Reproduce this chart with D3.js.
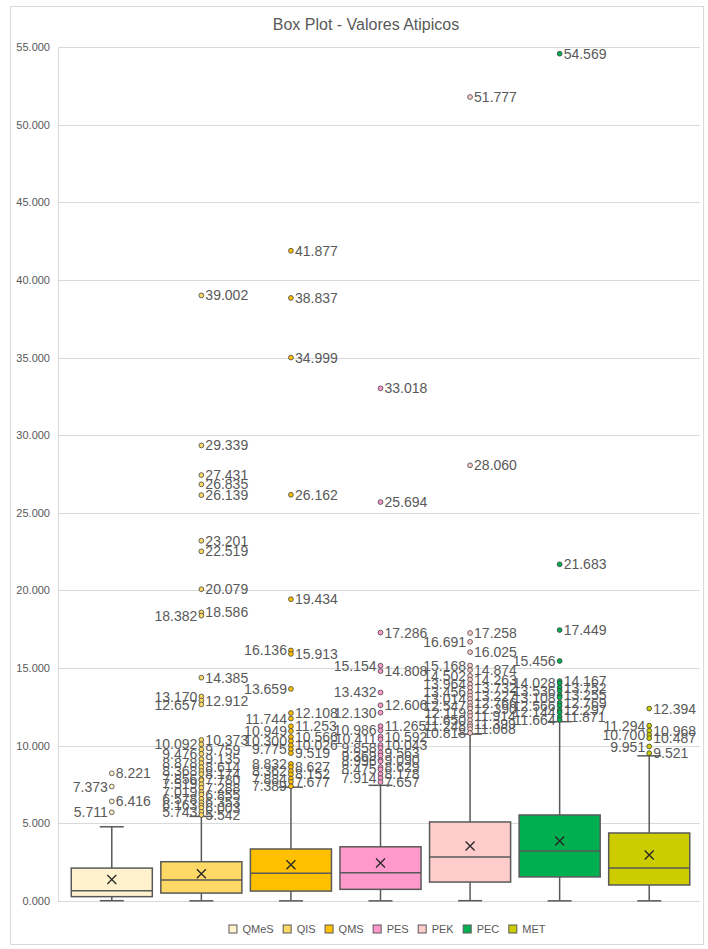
<!DOCTYPE html>
<html>
<head>
<meta charset="utf-8">
<script src="https://cdn.jsdelivr.net/npm/d3@7"></script>
<style>
  body { margin: 0; background: #ffffff; }
  text { font-family: "Liberation Sans", Arial, sans-serif; fill: #595959; }
</style>
</head>
<body>
<div class="chart"></div>
<script>
const categories = ["QMeS", "QIS", "QMS", "PES", "PEK", "PEC", "MET"];
const colors = ["#FFF2CC", "#FFD966", "#FFC000", "#FF99CC", "#FFCCCC", "#00B050", "#CCCC00"];

const whiskerLow = [0.02, 0.01, 0.01, 0.01, 0.02, 0.01, 0.01];
const q1 = [0.28, 0.51, 0.64, 0.75, 1.22, 1.55, 1.03];
const median = [0.66, 1.35, 1.78, 1.82, 2.83, 3.22, 2.12];
const q3 = [2.12, 2.53, 3.35, 3.49, 5.09, 5.54, 4.38];
const whiskerHigh = [4.78, 5.45, 7.33, 7.45, 10.75, 11.55, 9.35];
const means = [1.39, 1.76, 2.34, 2.45, 3.54, 3.86, 2.96];

const outliers = [
    [8.221, 7.373, 6.416, 5.711],
    [39.002, 29.339, 27.431, 26.835, 26.139, 23.201, 22.519, 20.079, 18.586, 18.382, 14.385, 13.170, 12.912, 12.657,
     10.373, 10.092, 9.759, 9.476, 9.135, 8.878, 8.614, 8.368, 8.174, 7.856, 7.780, 7.519, 7.288, 7.019, 6.855,
     6.578, 6.353, 6.163, 6.003, 5.743, 5.542],
    [41.877, 38.837, 34.999, 26.162, 19.434, 16.136, 15.913, 13.659, 12.108, 11.744, 11.253, 10.949, 10.566, 10.300,
     10.026, 9.775, 9.519, 8.832, 8.627, 8.362, 8.152, 7.884, 7.677, 7.389],
    [33.018, 25.694, 17.286, 15.154, 14.808, 13.432, 12.606, 12.130, 11.265, 10.986, 10.592, 10.411, 10.043, 9.858,
     9.563, 9.369, 9.090, 8.996, 8.629, 8.475, 8.178, 7.914, 7.657],
    [51.777, 28.060, 17.258, 16.691, 16.025, 15.168, 14.874, 14.502, 14.263, 13.964, 13.732, 13.456, 13.227, 13.014,
     12.766, 12.547, 12.390, 12.119, 11.914, 11.650, 11.399, 11.248, 11.068, 10.818],
    [54.569, 21.683, 17.449, 15.456, 14.167, 14.028, 13.752, 13.536, 13.255, 13.108, 12.769, 12.566, 12.297, 12.144,
     11.871, 11.664],
    [12.394, 11.294, 10.968, 10.700, 10.487, 9.951, 9.521]
];

const yTicks = [0, 5, 10, 15, 20, 25, 30, 35, 40, 45, 50, 55];

const width = 708, height = 949;
const plot = {left: 58, right: 700, top: 47, bottom: 901};

const svg = d3.select(".chart").append("svg")
    .attr("width", width)
    .attr("height", height);

// chart border
svg.append("rect")
    .attr("x", 10.5).attr("y", 6.5)
    .attr("width", 693).attr("height", 938)
    .attr("fill", "#ffffff")
    .attr("stroke", "#D9D9D9");

svg.append("text")
    .attr("x", 366).attr("y", 30)
    .attr("text-anchor", "middle")
    .attr("font-size", "16px")
    .text("Box Plot - Valores Atipicos");

const y = d3.scaleLinear().domain([0, 55]).range([plot.bottom, plot.top]);
const x = d3.scaleBand().domain(categories).range([67, 694]);
const fmt = d3.format(".3f");

// grid
svg.append("g")
    .selectAll("line")
    .data(yTicks)
    .join("line")
    .attr("x1", plot.left).attr("x2", plot.right)
    .attr("y1", d => Math.round(y(d)) + 0.5).attr("y2", d => Math.round(y(d)) + 0.5)
    .attr("stroke", "#D9D9D9");

svg.append("line")
    .attr("x1", plot.left + 0.5).attr("x2", plot.left + 0.5)
    .attr("y1", plot.top).attr("y2", plot.bottom)
    .attr("stroke", "#D9D9D9");

const yAxis = d3.axisLeft(y).tickValues(yTicks).tickFormat(fmt).tickSize(0).tickPadding(8);
const ga = svg.append("g").attr("transform", `translate(${plot.left},0)`).call(yAxis);
ga.select(".domain").remove();
ga.selectAll("text").attr("font-size", "11px").attr("fill", "#595959")
    .style("font-family", '"Liberation Sans", Arial, sans-serif');

const boxW = x.bandwidth() * 0.905;
const capW = 24;
const lineColor = "#595959";

categories.forEach((c, i) => {
    const cx = x(c) + x.bandwidth() / 2;
    const g = svg.append("g");

    // whiskers
    g.append("line")
        .attr("x1", cx).attr("x2", cx)
        .attr("y1", y(whiskerHigh[i])).attr("y2", y(q3[i]))
        .attr("stroke", lineColor).attr("stroke-width", 1.5);
    g.append("line")
        .attr("x1", cx).attr("x2", cx)
        .attr("y1", y(q1[i])).attr("y2", y(whiskerLow[i]))
        .attr("stroke", lineColor).attr("stroke-width", 1.5);
    [whiskerHigh[i], whiskerLow[i]].forEach(v => {
        g.append("line")
            .attr("x1", cx - capW / 2).attr("x2", cx + capW / 2)
            .attr("y1", y(v)).attr("y2", y(v))
            .attr("stroke", lineColor).attr("stroke-width", 1.5);
    });

    // box
    g.append("rect")
        .attr("x", cx - boxW / 2).attr("width", boxW)
        .attr("y", y(q3[i])).attr("height", y(q1[i]) - y(q3[i]))
        .attr("fill", colors[i])
        .attr("stroke", lineColor).attr("stroke-width", 1.5);
    g.append("line")
        .attr("x1", cx - boxW / 2).attr("x2", cx + boxW / 2)
        .attr("y1", y(median[i])).attr("y2", y(median[i]))
        .attr("stroke", lineColor).attr("stroke-width", 1.5);

    // mean marker
    const my = y(means[i]), s = 4.5;
    g.append("path")
        .attr("d", `M${cx - s},${my - s}L${cx + s},${my + s}M${cx - s},${my + s}L${cx + s},${my - s}`)
        .attr("stroke", "#262626").attr("stroke-width", 1.3);

    // outliers: top-down; high sparse points go right unless nearly on top of
    // the previous one, the crowded lower band alternates left/right
    const pts = outliers[i].slice().sort((a, b) => b - a);
    let prevY = -Infinity, prev = "L";
    const placed = pts.map((v, k) => {
        const py = y(v);
        let side;
        if (k === 0) side = "R";
        else if (v > 17 && py - prevY >= 6) side = "R";
        else side = prev === "R" ? "L" : "R";
        prevY = py;
        prev = side;
        return {v, py, side};
    });

    g.selectAll(".lbl")
        .data(placed)
        .join("text")
        .attr("class", "lbl")
        .attr("x", d => d.side === "R" ? cx + 4 : cx - 4)
        .attr("y", d => d.py)
        .attr("dy", "0.36em")
        .attr("text-anchor", d => d.side === "R" ? "start" : "end")
        .attr("font-size", "14px")
        .text(d => fmt(d.v));

    g.selectAll(".pt")
        .data(placed)
        .join("circle")
        .attr("class", "pt")
        .attr("cx", cx).attr("cy", d => d.py)
        .attr("r", 2.4)
        .attr("fill", colors[i])
        .attr("stroke", "#404040").attr("stroke-width", 0.8);
});

// legend
const legend = svg.append("g");
let lx = 0;
categories.forEach((c, i) => {
    const item = legend.append("g").attr("transform", `translate(${lx},0)`);
    item.append("rect")
        .attr("x", 0.5).attr("y", -4)
        .attr("width", 8).attr("height", 8)
        .attr("fill", colors[i])
        .attr("stroke", "#595959");
    const t = item.append("text")
        .attr("x", 14).attr("y", 0).attr("dy", "0.35em")
        .attr("font-size", "11px")
        .text(c);
    lx += 14 + t.node().getComputedTextLength() + 9;
});
lx -= 9;
legend.attr("transform", `translate(${387 - lx / 2},929)`);
</script>
</body>
</html>
